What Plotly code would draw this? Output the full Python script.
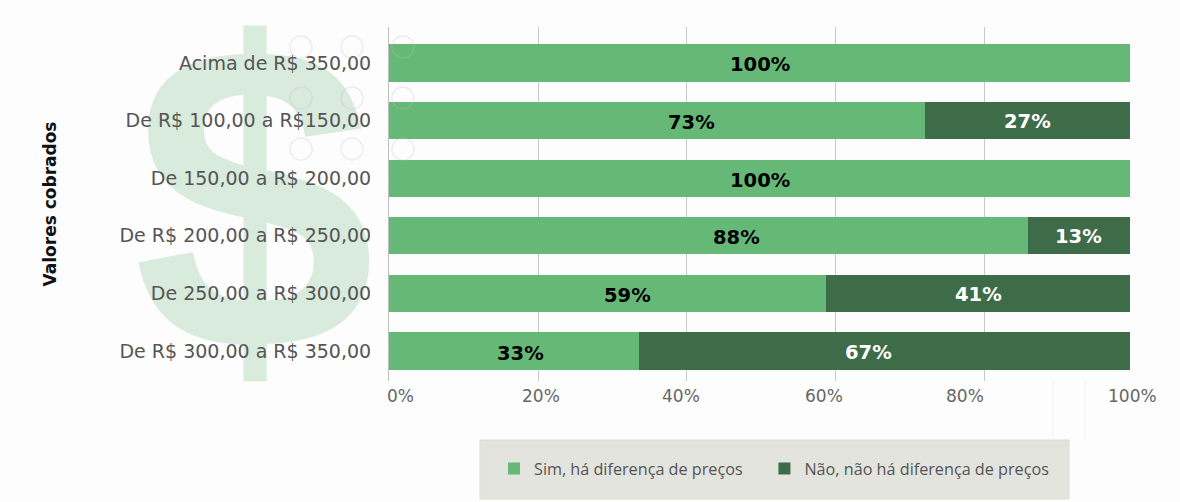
import plotly.graph_objects as go

categories = ["Acima de R$ 350,00", "De R$ 100,00 a R$150,00", "De 150,00 a R$ 200,00",
              "De R$ 200,00 a R$ 250,00", "De 250,00 a R$ 300,00", "De R$ 300,00 a R$ 350,00"]
sim_values = [100, 72.4, 100, 86.2, 59.0, 33.8]
nao_values = [0, 27.6, 0, 13.8, 41.0, 66.2]
sim_labels = ["100%", "73%", "100%", "88%", "59%", "33%"]
nao_labels = ["", "27%", "", "13%", "41%", "67%"]
tick_values = [0, 20, 40, 60, 80, 100]
tick_labels = ["0%", "20%", "40%", "60%", "80%", "100%"]
grid_values = [0, 20.2, 40.2, 60.2, 80.3, 100]

W, H = 1180, 502
LIGHT, DARK = "#66b877", "#3f6c48"
LABEL_FONT = "DejaVu Sans"

# hand-placed offsets (px) of the reference's text relative to where it would centre
sim_shift = [0, 34, 0, 28, 20, 6]
nao_shift = [0, 0, 0, 0, 0, -16]
tick_shift = [11, 4, -4, -10, -17, 2]

fig = go.Figure()

# backdrop subplot: sits below the chart's axis labels
fig.add_trace(go.Scatter(x=[254], y=[240], mode="text", text=["<b>$</b>"], showlegend=False, hoverinfo="skip",
                         textfont=dict(family="Liberation Sans", size=436, color="#d8ebdd"),
                         textposition="middle center", cliponaxis=False, xaxis="x", yaxis="y"))

# the non-breaking spaces widen the first legend entry to the reference's spacing
fig.add_trace(go.Bar(y=categories, x=sim_values, name="Sim, há diferença de preços\u00a0\u00a0\u00a0\u00a0", orientation="h",
                     marker=dict(color=LIGHT, line_width=0), width=0.645, xaxis="x2", yaxis="y2"))
fig.add_trace(go.Bar(y=categories, x=nao_values, name="Não, não há diferença de preços", orientation="h",
                     marker=dict(color=DARK, line_width=0), width=0.645, xaxis="x2", yaxis="y2"))

annotations = []
for i, c in enumerate(categories):
    annotations.append(dict(x=sim_values[i] / 2, y=c, xref="x2", yref="y2", text=f"<b>{sim_labels[i]}</b>",
                            showarrow=False, xshift=sim_shift[i], yshift=-2,
                            font=dict(family=LABEL_FONT, size=19.5, color="#000000")))
    if nao_labels[i]:
        annotations.append(dict(x=sim_values[i] + nao_values[i] / 2, y=c, xref="x2", yref="y2",
                                text=f"<b>{nao_labels[i]}</b>", showarrow=False, xshift=nao_shift[i], yshift=-1,
                                font=dict(family=LABEL_FONT, size=19.5, color="#ffffff")))
for v, t, s in zip(tick_values, tick_labels, tick_shift):
    annotations.append(dict(x=v, y=1 - 396 / H, xref="x2", yref="paper", yanchor="middle", text=t, showarrow=False,
                            xshift=s, font=dict(family=LABEL_FONT, size=17, color="#666666")))

shapes = [dict(type="rect", xref="paper", yref="paper", x0=480 / W, x1=1069 / W, y0=1 - 499 / H, y1=1 - 440 / H,
               fillcolor="#e3e4de", line=dict(color="#dcdcd6", width=1), layer="below")]
for cx in (301, 352, 403):
    for cy in (47, 98, 149):
        shapes.append(dict(type="circle", xref="paper", yref="paper", x0=(cx - 11) / W, x1=(cx + 11) / W,
                           y0=1 - (cy + 11) / H, y1=1 - (cy - 11) / H,
                           line=dict(color="rgba(190,190,190,0.25)", width=1.5), layer="above"))
for lx in (1053, 1085):
    shapes.append(dict(type="line", xref="paper", yref="paper", x0=lx / W, x1=lx / W, y0=1 - 440 / H, y1=1 - 381 / H,
                       line=dict(color="#f1f1f1", width=1), layer="below"))

fig.update_layout(
    width=W, height=H, autosize=False, margin=dict(l=0, r=0, t=0, b=0),
    paper_bgcolor="#fdfdfd", plot_bgcolor="rgba(0,0,0,0)", barmode="stack",
    showlegend=True,
    legend=dict(orientation="h", x=494 / W, y=1 - 469 / H, xanchor="left", yanchor="middle", traceorder="normal",
                bgcolor="rgba(0,0,0,0)", font=dict(family="Open Sans", size=16.2, color="#555555"),
                itemclick=False, itemdoubleclick=False),
    xaxis=dict(domain=[0, 1], range=[0, W], visible=False, fixedrange=True),
    yaxis=dict(domain=[0, 1], range=[H, 0], visible=False, fixedrange=True),
    xaxis2=dict(domain=[389 / W, 1130 / W], range=[0, 100], anchor="y2", tickvals=grid_values, showticklabels=False,
                showgrid=True, gridcolor="#c9c9c9", gridwidth=1, zeroline=False, showline=False, ticks="", fixedrange=True),
    yaxis2=dict(domain=[1 - 381 / H, 1 - 27 / H], range=[5.52, -0.625], anchor="x2", type="category",
                categoryorder="array", categoryarray=categories,
                showline=True, linecolor="#bdbdbd", linewidth=1, showgrid=False, ticks="outside", ticklen=13,
                tickcolor="rgba(0,0,0,0)", tickfont=dict(family=LABEL_FONT, size=19, color="#555555"),
                title=dict(text="<b>Valores cobrados</b>", standoff=58,
                           font=dict(family="DejaVu Sans", size=17, color="#111111")),
                fixedrange=True),
    annotations=annotations, shapes=shapes,
)

fig.write_html("out.html", config={"displayModeBar": False},
               post_script="document.body.style.margin='0';")
